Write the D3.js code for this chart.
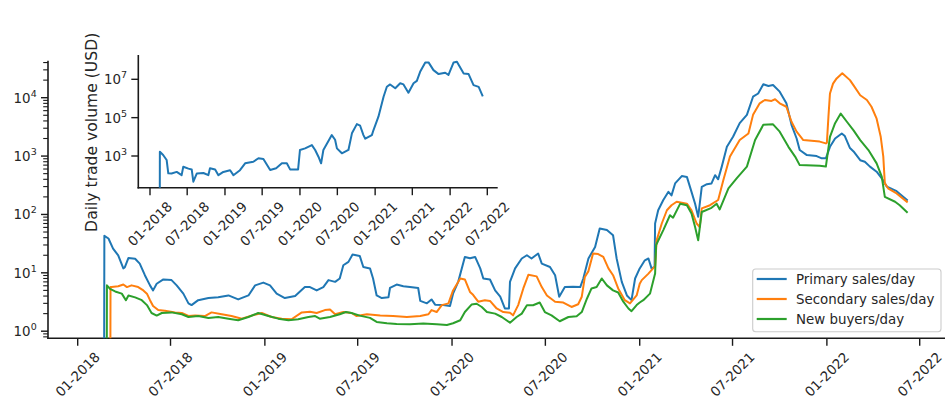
<!DOCTYPE html>
<html><head><meta charset="utf-8">
<script src="https://cdn.jsdelivr.net/npm/d3@7"></script>
<style>
html,body{margin:0;padding:0;background:#fff;}
svg{display:block;font-family:"DejaVu Sans",sans-serif;}
</style></head><body>
<svg id="chart" width="945" height="400"></svg>
<script>
// ---------------- DATA ----------------
const primarySeries = [["2018-02-21",0],["2018-02-22",43],["2018-03-02",38.7],["2018-03-11",26],["2018-03-21",19.9],["2018-03-31",11.9],["2018-04-03",12.5],["2018-04-10",18],["2018-04-23",17.4],["2018-05-02",14.4],["2018-05-12",9.1],["2018-05-22",6.1],["2018-05-28",5.0],["2018-06-04",6.5],["2018-06-17",7.7],["2018-07-03",7.5],["2018-07-13",6.1],["2018-07-26",4.4],["2018-08-05",3.0],["2018-08-11",2.8],["2018-08-24",3.4],["2018-09-13",3.7],["2018-10-02",3.8],["2018-10-22",4.1],["2018-11-10",3.5],["2018-11-30",4.1],["2018-12-13",6.1],["2018-12-29",6.8],["2019-01-11",6.1],["2019-01-24",4.4],["2019-02-09",3.7],["2019-03-01",4.0],["2019-03-20",5.7],["2019-03-30",5.7],["2019-04-12",5.0],["2019-04-25",5.7],["2019-05-05",7.5],["2019-05-18",7.0],["2019-05-27",8.0],["2019-06-03",13.5],["2019-06-13",15.4],["2019-06-21",20.6],["2019-07-05",19.5],["2019-07-12",12.6],["2019-07-25",11.9],["2019-07-31",8],["2019-08-07",4.1],["2019-08-17",3.7],["2019-08-30",3.8],["2019-09-02",5.5],["2019-09-15",6.3],["2019-09-28",5.9],["2019-10-11",5.7],["2019-10-27",5.5],["2019-10-31",3.3],["2019-11-13",3.0],["2019-11-22",3.5],["2019-11-29",2.85],["2019-12-15",2.8],["2019-12-28",2.7],["2020-01-03",4.4],["2020-01-13",7.0],["2020-01-26",18.7],["2020-02-05",17.8],["2020-02-15",18.7],["2020-02-25",11.9],["2020-03-02",8],["2020-03-15",7.7],["2020-03-25",5.0],["2020-04-04",3.9],["2020-04-13",2.45],["2020-04-21",2.45],["2020-04-23",7.0],["2020-05-03",11.9],["2020-05-16",17.6],["2020-05-26",20],["2020-06-04",17.6],["2020-06-17",21.4],["2020-06-24",14.4],["2020-07-10",12.6],["2020-07-20",9.1],["2020-07-28",3.9],["2020-08-08",5.7],["2020-08-24",5.8],["2020-09-07",5.7],["2020-09-13",8],["2020-09-23",17.6],["2020-10-06",27.8],["2020-10-15",57.5],["2020-10-29",54],["2020-11-10",44],["2020-11-17",17.6],["2020-11-27",7.0],["2020-12-07",4.1],["2020-12-16",3.4],["2020-12-23",8],["2021-01-01",11.9],["2021-01-11",16.4],["2021-01-18",17.6],["2021-01-24",11.9],["2021-01-30",12.6],["2021-01-31",70],["2021-02-06",118],["2021-02-16",177],["2021-02-26",244],["2021-03-04",212],["2021-03-11",340],["2021-03-24",454],["2021-04-03",440],["2021-04-12",244],["2021-04-19",153],["2021-04-25",91],["2021-05-02",298],["2021-05-12",330],["2021-05-21",340],["2021-05-28",470],["2021-06-03",400],["2021-06-10",660],["2021-06-20",1440],["2021-07-02",2140],["2021-07-15",3660],["2021-07-29",5080],["2021-08-10",10400],["2021-08-20",11800],["2021-08-30",17000],["2021-09-09",15900],["2021-09-18",16500],["2021-10-01",12700],["2021-10-14",8000],["2021-10-24",3430],["2021-11-03",2000],["2021-11-09",1270],["2021-11-23",1040],["2021-12-12",1000],["2021-12-22",915],["2021-12-30",915],["2022-01-07",1440],["2022-01-17",2000],["2022-01-30",2440],["2022-02-05",2200],["2022-02-15",1370],["2022-02-22",1200],["2022-03-07",850],["2022-03-16",800],["2022-03-26",660],["2022-04-08",540],["2022-04-18",415],["2022-04-28",300],["2022-05-17",250],["2022-06-06",177]];

const secondarySeries = [["2018-03-05",0],["2018-03-06",5.7],["2018-03-08",5.7],["2018-03-21",5.9],["2018-03-31",6.3],["2018-04-07",5.7],["2018-04-16",6.1],["2018-04-29",5.7],["2018-05-09",5.0],["2018-05-16",4.4],["2018-05-22",3.4],["2018-05-28",2.7],["2018-06-07",2.3],["2018-06-20",2.25],["2018-07-10",2.1],["2018-07-23",2.05],["2018-08-05",1.82],["2018-08-18",1.85],["2018-09-06",1.82],["2018-09-19",2.1],["2018-10-09",1.95],["2018-10-28",1.82],["2018-11-17",1.64],["2018-12-06",1.85],["2018-12-26",2.05],["2019-01-14",1.75],["2019-02-03",1.64],["2019-02-22",1.6],["2019-03-14",2.1],["2019-03-30",2.15],["2019-04-12",2.05],["2019-04-28",2.3],["2019-05-08",2.35],["2019-05-18",1.95],["2019-06-03",2.13],["2019-06-19",2.05],["2019-06-29",1.82],["2019-07-19",1.95],["2019-08-14",1.85],["2019-09-08",1.82],["2019-10-05",1.75],["2019-10-31",1.82],["2019-11-16",1.95],["2019-11-22",2.3],["2019-12-02",2.13],["2019-12-12",2.8],["2019-12-25",3.0],["2020-01-03",5.0],["2020-01-17",8],["2020-01-26",7.7],["2020-02-05",4.7],["2020-02-11",4.2],["2020-02-21",3.2],["2020-03-05",3.4],["2020-03-15",3.3],["2020-03-28",2.45],["2020-04-10",2.13],["2020-04-23",2.08],["2020-04-29",1.87],["2020-05-09",2.8],["2020-05-19",5.4],["2020-05-29",9.3],["2020-06-14",8.7],["2020-06-24",5.7],["2020-07-04",4.1],["2020-07-20",3.2],["2020-08-05",3.1],["2020-08-21",2.6],["2020-09-03",2.9],["2020-09-10",3.9],["2020-09-16",8.5],["2020-09-23",10.7],["2020-10-02",21.4],["2020-10-12",21],["2020-10-22",18.7],["2020-11-01",11.9],["2020-11-10",9.1],["2020-11-20",5.4],["2020-12-03",3.4],["2020-12-13",3.0],["2020-12-26",4.1],["2021-01-01",6.5],["2021-01-05",7.5],["2021-01-18",9.7],["2021-01-27",11.9],["2021-01-31",13],["2021-02-03",36],["2021-02-13",70],["2021-02-23",118],["2021-03-04",144],["2021-03-14",165],["2021-04-03",153],["2021-04-12",118],["2021-04-22",70],["2021-04-28",61],["2021-05-02",127],["2021-05-18",144],["2021-06-03",177],["2021-06-13",385],["2021-06-26",980],["2021-07-15",1880],["2021-08-01",2440],["2021-08-10",5080],["2021-08-23",8000],["2021-09-02",9140],["2021-09-15",8800],["2021-09-22",9400],["2021-10-01",8000],["2021-10-14",7000],["2021-10-24",3870],["2021-11-03",2620],["2021-11-16",1880],["2021-12-18",1770],["2021-12-30",1650],["2022-01-01",1700],["2022-01-04",4700],["2022-01-07",11800],["2022-01-13",17400],["2022-01-20",21400],["2022-01-31",26200],["2022-02-15",20000],["2022-02-22",16300],["2022-03-07",11000],["2022-03-20",9140],["2022-03-29",7000],["2022-04-08",4370],["2022-04-16",2140],["2022-04-21",980],["2022-04-24",340],["2022-05-01",276],["2022-05-17",229],["2022-06-06",165]];

const buyersSeries = [["2018-02-26",0],["2018-02-27",6.1],["2018-03-05",5.3],["2018-03-15",4.8],["2018-03-28",4.4],["2018-04-05",3.4],["2018-04-10",4.1],["2018-04-23",3.8],["2018-05-06",3.4],["2018-05-16",2.8],["2018-05-25",2.05],["2018-06-04",1.85],["2018-06-14",2.05],["2018-07-03",2.1],["2018-07-23",1.95],["2018-08-05",1.75],["2018-08-24",1.82],["2018-09-13",1.69],["2018-10-02",1.75],["2018-10-22",1.64],["2018-11-10",1.54],["2018-11-30",1.75],["2018-12-19",2.05],["2019-01-08",1.82],["2019-01-27",1.64],["2019-02-16",1.54],["2019-03-07",1.6],["2019-03-27",1.75],["2019-04-09",1.82],["2019-04-18",1.64],["2019-05-08",1.75],["2019-05-27",1.95],["2019-06-08",2.13],["2019-06-19",2.05],["2019-07-05",1.85],["2019-07-25",1.69],["2019-08-07",1.44],["2019-08-27",1.37],["2019-09-15",1.33],["2019-10-11",1.31],["2019-11-06",1.35],["2019-12-02",1.31],["2019-12-22",1.28],["2020-01-03",1.37],["2020-01-17",1.54],["2020-01-26",2.13],["2020-02-08",2.86],["2020-02-18",2.95],["2020-02-28",2.6],["2020-03-09",2.13],["2020-03-25",2.0],["2020-04-07",1.75],["2020-04-23",1.4],["2020-05-06",1.75],["2020-05-16",2.0],["2020-05-26",2.78],["2020-06-07",2.78],["2020-06-20",3.1],["2020-06-30",2.13],["2020-07-13",1.87],["2020-07-29",1.48],["2020-08-15",1.75],["2020-08-31",1.8],["2020-09-10",2.13],["2020-09-20",3.6],["2020-09-29",5.4],["2020-10-09",5.7],["2020-10-19",8],["2020-10-29",6.1],["2020-11-10",5.0],["2020-11-20",4.6],["2020-11-30",3.2],["2020-12-10",2.45],["2020-12-16",2.2],["2020-12-26",2.8],["2021-01-01",3.1],["2021-01-08",3.4],["2021-01-21",4.4],["2021-01-31",9.7],["2021-02-02",30],["2021-02-16",54],["2021-03-01",97],["2021-03-07",88],["2021-03-21",153],["2021-04-03",144],["2021-04-12",104],["2021-04-19",61],["2021-04-25",36],["2021-05-02",110],["2021-05-21",130],["2021-05-31",153],["2021-06-06",122],["2021-06-23",280],["2021-07-09",415],["2021-07-29",660],["2021-08-14",1880],["2021-08-30",3430],["2021-09-18",3500],["2021-10-01",2620],["2021-10-18",1440],["2021-10-31",980],["2021-11-09",700],["2021-12-18",680],["2021-12-30",660],["2022-01-07",2140],["2022-01-17",3660],["2022-01-28",5350],["2022-02-09",3870],["2022-02-22",2750],["2022-03-07",1880],["2022-03-23",1270],["2022-04-08",750],["2022-04-18",444],["2022-04-24",200],["2022-05-14",165],["2022-05-23",144],["2022-06-06",110]];

const volumeSeries = [["2018-02-17",0],["2018-02-18",1670],["2018-03-06",1130],["2018-03-23",620],["2018-03-31",125],["2018-04-16",123],["2018-05-11",148],["2018-06-04",100],["2018-06-12",277],["2018-07-07",220],["2018-07-23",200],["2018-07-31",46],["2018-08-17",123],["2018-09-18",130],["2018-10-12",100],["2018-10-20",228],["2018-11-14",200],["2018-11-30",100],["2018-12-24",148],["2019-01-26",182],["2019-02-11",100],["2019-03-15",182],["2019-04-09",415],["2019-05-19",500],["2019-06-13",760],["2019-07-07",700],["2019-08-09",187],["2019-09-07",230],["2019-10-05",415],["2019-10-29",420],["2019-11-14",200],["2019-12-23",200],["2020-01-01",2060],["2020-01-26",2500],["2020-02-28",3700],["2020-03-15",2060],["2020-03-31",920],["2020-04-13",415],["2020-04-24",2060],["2020-06-04",12300],["2020-06-20",7000],["2020-06-29",2500],["2020-07-23",1380],["2020-08-24",2060],["2020-09-10",15200],["2020-10-04",46000],["2020-10-20",38000],["2020-11-05",12300],["2020-11-14",8000],["2020-12-16",12300],["2020-12-24",22600],["2021-01-17",112000],["2021-02-11",1230000],["2021-02-27",4100000],["2021-03-15",5400000],["2021-04-09",3400000],["2021-05-03",6200000],["2021-05-19",5400000],["2021-06-12",2000000],["2021-07-07",6200000],["2021-07-23",8300000],["2021-08-08",24600000],["2021-09-02",76000000],["2021-09-18",76000000],["2021-10-12",30000000],["2021-11-06",18700000],["2021-12-08",22000000],["2021-12-24",17000000],["2022-01-18",76000000],["2022-02-03",83000000],["2022-03-08",20000000],["2022-04-01",18700000],["2022-04-25",5000000],["2022-05-20",4000000],["2022-06-09",1300000]];

const xTickDates = ["2018-01-01","2018-07-01","2019-01-01","2019-07-01","2020-01-01","2020-07-01","2021-01-01","2021-07-01","2022-01-01","2022-07-01"];
const xTickLabels = ["01-2018","07-2018","01-2019","07-2019","01-2020","07-2020","01-2021","07-2021","01-2022","07-2022"];
const mainYTickExps = [0,1,2,3,4];
const insetYTickExps = [3,5,7];
const seriesNames = ["Primary sales/day","Secondary sales/day","New buyers/day"];
const seriesColors = ["#1f77b4","#ff7f0e","#2ca02c"];
const yLabel = "Daily trade volume (USD)";

// ---------------- DRAWING ----------------
const parse = d3.utcParse("%Y-%m-%d");
const svg = d3.select("#chart");
const ink = "#1a1a1a", textInk = "#262626";
const FS = 13.4;

const main = {left:48, right:945, top:60.7, bottom:338.3};
const inset = {left:138.3, right:497.7, top:55, bottom:187.7};

const xMain = d3.scaleUtc().domain([parse("2018-01-01"), parse("2022-07-01")]).range([77.7, 919.7]);
const yMain = d3.scaleLog().domain([1, 1e4]).range([331.2, 97.7]);
const xIn = d3.scaleUtc().domain([parse("2018-01-01"), parse("2022-07-01")]).range([150, 487.3]);
const yIn = d3.scaleLog().domain([1e3, 1e7]).range([156, 79.3]);

const defs = svg.append("defs");
defs.append("clipPath").attr("id","clipMain").append("rect")
  .attr("x",main.left).attr("y",main.top).attr("width",main.right-main.left).attr("height",main.bottom-main.top);
defs.append("clipPath").attr("id","clipIn").append("rect")
  .attr("x",inset.left).attr("y",inset.top).attr("width",inset.right-inset.left).attr("height",inset.bottom-inset.top);

function pairs(series){ return series.map(([d,v])=>({date:parse(d), v:v})); }

function drawAxes(g, box, xs, ys, exps, minorVals, labelCenterDy){
  exps.forEach(e=>{
    const y = ys(Math.pow(10,e));
    g.append("line").attr("x1",box.left-7).attr("x2",box.left).attr("y1",y).attr("y2",y)
      .attr("stroke",ink).attr("stroke-width",1.4);
    const t = g.append("text").attr("x",box.left-11.3).attr("y",y+5)
      .attr("text-anchor","end").attr("fill",textInk).attr("font-size",FS+"px");
    t.append("tspan").text("10");
    t.append("tspan").attr("dy",-6).attr("font-size","9.5px").text(String(e));
  });
  minorVals.forEach(v=>{
    const y = ys(v);
    g.append("line").attr("x1",box.left-4.8).attr("x2",box.left).attr("y1",y).attr("y2",y)
      .attr("stroke",ink).attr("stroke-width",1.1);
  });
  xTickDates.forEach((d,i)=>{
    const x = xs(parse(d));
    g.append("line").attr("x1",x).attr("x2",x).attr("y1",box.bottom).attr("y2",box.bottom+7.5)
      .attr("stroke",ink).attr("stroke-width",1.4);
    g.append("text").attr("transform",`translate(${x},${box.bottom+labelCenterDy}) rotate(-45)`)
      .attr("text-anchor","middle").attr("dy","0.35em").attr("fill",textInk)
      .attr("font-size",FS+"px").text(xTickLabels[i]);
  });
  g.append("line").attr("x1",box.left).attr("x2",box.left).attr("y1",box.top).attr("y2",box.bottom+0.8)
    .attr("stroke",ink).attr("stroke-width",1.6);
  g.append("line").attr("x1",box.left-0.8).attr("x2",box.right).attr("y1",box.bottom).attr("y2",box.bottom)
    .attr("stroke",ink).attr("stroke-width",1.6);
}

// main axes
const gMain = svg.append("g");
const mainMinor = [];
for (let k=-1;k<=4;k++) for (let m=2;m<=9;m++){ const v=m*Math.pow(10,k); const y=yMain(v); if (y>=main.top && y<=main.bottom) mainMinor.push(v); }
drawAxes(gMain, main, xMain, yMain, mainYTickExps, mainMinor, 36.2);

const lineMain = d3.line().x(d=>xMain(d.date)).y(d=>yMain(Math.max(d.v,1e-3)));
const mainSeries = [pairs(primarySeries), pairs(secondarySeries), pairs(buyersSeries)];
const gLines = svg.append("g").attr("clip-path","url(#clipMain)");
mainSeries.forEach((s,i)=>{
  gLines.append("path").datum(s).attr("d",lineMain).attr("fill","none")
    .attr("stroke",seriesColors[i]).attr("stroke-width",2).attr("stroke-linejoin","round").attr("stroke-linecap","square");
});

// y label
svg.append("text").attr("transform","translate(97.4,132.3) rotate(-90)")
  .attr("text-anchor","middle").attr("fill",textInk).attr("font-size","15.6px").text(yLabel);

// inset axes
const gIn = svg.append("g");
gIn.append("rect").attr("x",inset.left).attr("y",inset.top).attr("width",inset.right-inset.left)
  .attr("height",inset.bottom-inset.top).attr("fill","#fff");
drawAxes(gIn, inset, xIn, yIn, insetYTickExps, [], 36.2);
const lineIn = d3.line().x(d=>xIn(d.date)).y(d=>yIn(Math.max(d.v,1e-3)));
svg.append("g").attr("clip-path","url(#clipIn)").append("path")
  .datum(pairs(volumeSeries)).attr("d",lineIn).attr("fill","none")
  .attr("stroke",seriesColors[0]).attr("stroke-width",2).attr("stroke-linejoin","round");

// legend
const lg = svg.append("g");
lg.append("rect").attr("x",752.7).attr("y",269).attr("width",188.3).attr("height",62.7).attr("rx",3)
  .attr("fill","#fff").attr("fill-opacity",0.8).attr("stroke","#cccccc").attr("stroke-width",1.1);
seriesNames.forEach((n,i)=>{
  const y = 279 + i*20;
  lg.append("line").attr("x1",756.7).attr("x2",786.7).attr("y1",y).attr("y2",y)
    .attr("stroke",seriesColors[i]).attr("stroke-width",2.2);
  lg.append("text").attr("x",796).attr("y",y+4.8).attr("fill",textInk).attr("font-size",FS+"px").text(n);
});
</script>
</body></html>
